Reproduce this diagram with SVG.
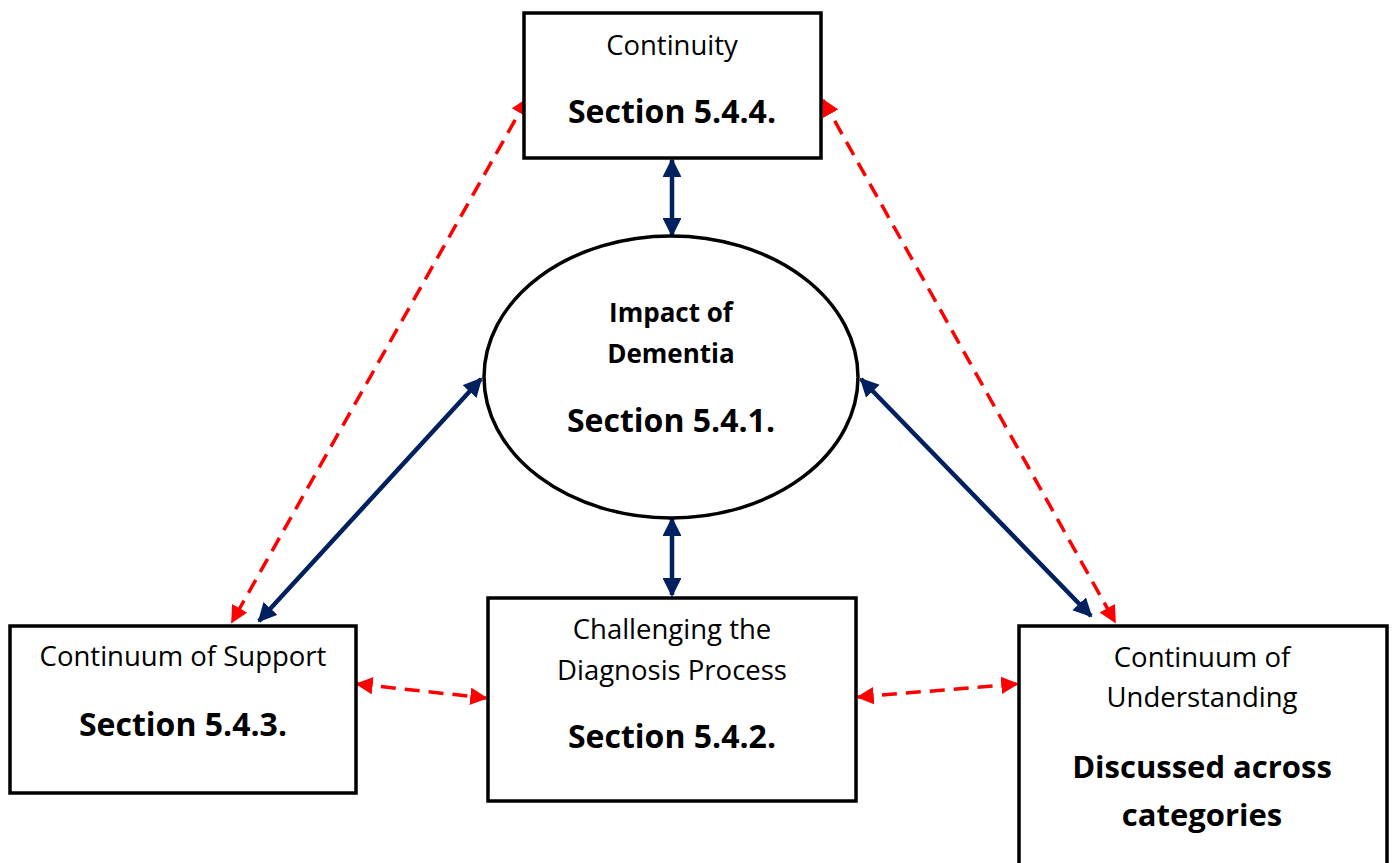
<svg xmlns="http://www.w3.org/2000/svg" width="1394" height="863" viewBox="0 0 1394 863">
  <style>
    .box { fill: #ffffff; stroke: #000000; stroke-width: 3.5; }
    .lbl { font-family: "Open Sans", "Liberation Sans", sans-serif; font-size: 27.5px; fill: #000000; text-anchor: middle; }
    .sec { font-family: "Open Sans", "Liberation Sans", sans-serif; font-size: 32px; font-weight: bold; fill: #000000; text-anchor: middle; }
    .big { font-family: "Open Sans", "Liberation Sans", sans-serif; font-size: 31px; font-weight: bold; fill: #000000; text-anchor: middle; }
    .sub { font-family: "Open Sans", "Liberation Sans", sans-serif; font-size: 26px; font-weight: bold; fill: #000000; text-anchor: middle; }
    .solid { stroke: #002060; stroke-width: 4.5; fill: none; marker-start: url(#blueHead); marker-end: url(#blueHead); }
    .dash { stroke: #ff0000; stroke-width: 3.5; stroke-dasharray: 15 9; fill: none; marker-start: url(#redHead); marker-end: url(#redHead); }
  </style>
  <defs>
    <marker id="blueHead" viewBox="0 0 10 10" refX="9" refY="5" markerWidth="4.2" markerHeight="4.2" orient="auto-start-reverse" markerUnits="strokeWidth">
      <path d="M0,0 L10,5 L0,10 Z" fill="#002060"/>
    </marker>
    <marker id="redHead" viewBox="0 0 10 10" refX="9" refY="5" markerWidth="5" markerHeight="5" orient="auto-start-reverse" markerUnits="strokeWidth">
      <path d="M0,0 L10,5 L0,10 Z" fill="#ff0000"/>
    </marker>
  </defs>

  <rect width="1394" height="863" fill="#ffffff"/>

  <g id="connectors">
    <line class="solid" x1="672" y1="160" x2="672" y2="235"/>
    <line class="solid" x1="672" y1="519" x2="672" y2="595"/>
    <line class="solid" x1="481" y1="379" x2="259" y2="621"/>
    <line class="solid" x1="861" y1="379" x2="1091" y2="616"/>
    <line class="dash" x1="527" y1="99" x2="232" y2="622"/>
    <line class="dash" x1="823" y1="100" x2="1115" y2="622"/>
    <line class="dash" x1="357" y1="684" x2="486" y2="698"/>
    <line class="dash" x1="858" y1="697" x2="1017" y2="684"/>
  </g>

  <g id="continuity">
    <rect class="box" x="524" y="13" width="297" height="145"/>
    <text class="lbl" x="672" y="55">Continuity</text>
    <text class="sec" x="672" y="123">Section 5.4.4.</text>
  </g>

  <g id="impact">
    <ellipse class="box" cx="671" cy="377" rx="187" ry="141"/>
    <text class="sub" x="671" y="322">Impact of</text>
    <text class="sub" x="671" y="363">Dementia</text>
    <text class="sec" x="671" y="432">Section 5.4.1.</text>
  </g>

  <g id="support">
    <rect class="box" x="10" y="626" width="346" height="167"/>
    <text class="lbl" x="183" y="666">Continuum of Support</text>
    <text class="sec" x="183" y="736">Section 5.4.3.</text>
  </g>

  <g id="diagnosis">
    <rect class="box" x="488" y="598" width="368" height="203"/>
    <text class="lbl" x="672" y="639">Challenging the</text>
    <text class="lbl" x="672" y="680">Diagnosis Process</text>
    <text class="sec" x="672" y="748">Section 5.4.2.</text>
  </g>

  <g id="understanding">
    <rect class="box" x="1019" y="626" width="368" height="250"/>
    <text class="lbl" x="1202" y="667">Continuum of</text>
    <text class="lbl" x="1202" y="707">Understanding</text>
    <text class="big" x="1202" y="778">Discussed across</text>
    <text class="big" x="1202" y="826">categories</text>
  </g>
</svg>
